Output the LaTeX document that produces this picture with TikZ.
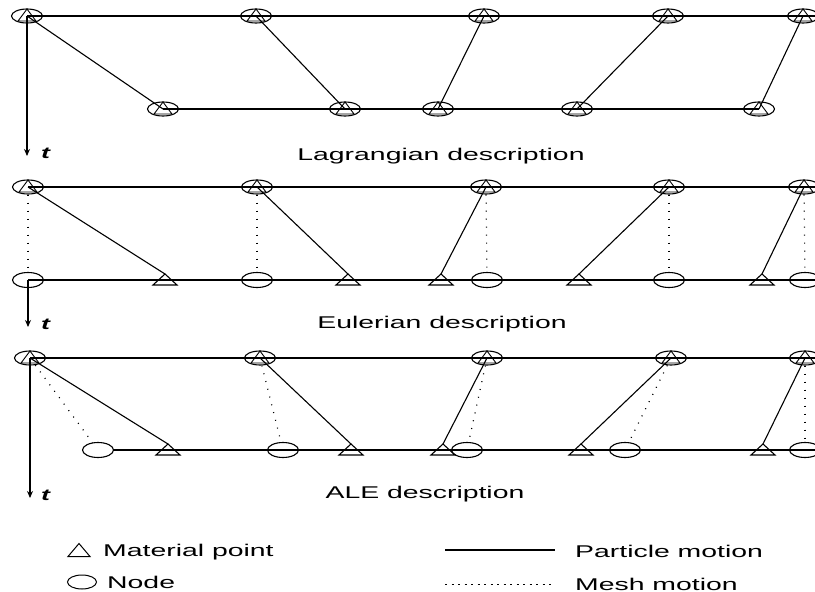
\documentclass[tikz,border=0pt]{standalone}
\usepackage{fontspec}
\setmainfont{Liberation Sans}[FakeStretch=1.67]
\usetikzlibrary{shapes.geometric,arrows.meta}
\tikzset{
  axisline/.style={line width=1.8pt},
  particle/.style={line width=1.1pt},
  mesh/.style={line width=1.2pt, dash pattern=on 1pt off 7pt},
  arr/.style={-{Stealth[length=7pt,width=6pt]}},
  lbl/.style={font=\fontsize{17}{20}\selectfont, inner sep=0pt},
  tlbl/.style={font=\fontsize{16}{18}\selectfont\bfseries\itshape, inner sep=0pt},
  nodecirc/.style={ellipse, draw, line width=1.1pt, minimum width=31pt, minimum height=15pt, inner sep=0pt},
  tri/.pic={
    \draw[line width=1.1pt] (-12,5) -- (12,5) -- (0,-6) -- cycle;
    \coordinate (-a) at (0,-6);
  },
  mp/.pic={
    \node[nodecirc, minimum height=14pt] (-c) at (0,0) {};
    \draw[line width=0.9pt] (-9,5) -- (9,5) -- (0,-7) -- cycle;
  },
  legtri/.pic={
    \draw[line width=1pt] (-11,6.5) -- (11,6.5) -- (0,-6.5) -- cycle;
  }
}
\begin{document}
\begin{tikzpicture}[x=1pt,y=-1pt]
\useasboundingbox (0,0) rectangle (815,592);
\clip (0,0) rectangle (815,592);

% ---------------- Lagrangian ----------------
\foreach \i/\x in {1/27,2/256,3/484,4/668,5/803} \pic (LT\i) at (\x,16) {mp};
\foreach \i/\x in {1/163,2/345,3/438,4/577,5/759} \pic (LB\i) at (\x,109) {mp};
\coordinate (Lr) at (815,16);
\coordinate (Lt) at (27,156);
\draw[axisline] (LT1-c.center) -- (Lr);
\draw[axisline] (LB1-c.center) -- (LB5-c.center);
\foreach \i in {1,...,5} \draw[particle] (LT\i-c.center) -- (LB\i-c.center);
\draw[axisline,arr] (LT1-c.center) -- (Lt);
\node[tlbl, anchor=base west] (Ltl) at (41,158) {t};
\node[lbl, anchor=base] (Llab) at (441,160) {Lagrangian description};

% ---------------- Eulerian ----------------
\foreach \i/\x in {1/28,2/257,3/486,4/669,5/804} \pic (ET\i) at (\x,187) {mp};
\foreach \i/\x in {1/28,2/257,3/487,4/669,5/805} \node[nodecirc] (EC\i) at (\x,280) {};
\foreach \i/\x in {1/165,2/348,3/441,4/579,5/762} \pic (ER\i) at (\x,280) {tri};
\coordinate (Er1) at (815,187);
\coordinate (Er2) at (815,280);
\coordinate (Et) at (28,327);
\draw[axisline] (ET1-c.center) -- (Er1);
\draw[axisline] (EC1.center) -- (Er2);
\foreach \i in {1,...,5} {
  \draw[particle] (ET\i-c.center) -- (ER\i-a);
  \draw[mesh] (ET\i-c) -- (EC\i);
}
\draw[axisline,arr] (EC1.center) -- (Et);
\node[tlbl, anchor=base west] (Etl) at (41,329) {t};
\node[lbl, anchor=base] (Elab) at (442,328) {Eulerian description};

% ---------------- ALE ----------------
\foreach \i/\x in {1/30,2/260,3/487,4/671,5/805} \pic (AT\i) at (\x,358) {mp};
\foreach \i/\x in {1/98,2/283,3/467,4/625,5/805} \node[nodecirc] (AC\i) at (\x,450) {};
\foreach \i/\x in {1/168,2/351,3/443,4/581,5/763} \pic (AR\i) at (\x,450) {tri};
\coordinate (Ar1) at (815,358);
\coordinate (Ar2) at (815,450);
\coordinate (At) at (30,498);
\draw[axisline] (AT1-c.center) -- (Ar1);
\draw[axisline] (AC1.east) -- (Ar2);
\foreach \i in {1,...,5} {
  \draw[particle] (AT\i-c.center) -- (AR\i-a);
  \draw[mesh] (AT\i-c) -- (AC\i);
}
\draw[axisline,arr] (AT1-c.center) -- (At);
\node[tlbl, anchor=base west] (Atl) at (41,500) {t};
\node[lbl, anchor=base] (Alab) at (425,498) {ALE description};

% ---------------- Legend ----------------
\pic (legT) at (79,550) {legtri};
\node[nodecirc, line width=1pt, minimum width=29pt, minimum height=14pt] (legC) at (82,582) {};
\node[lbl, anchor=base west] (legTt) at (103,556) {Material point};
\node[lbl, anchor=base west] (legCt) at (107,588) {Node};
\coordinate (lp1) at (445,550);
\coordinate (lp2) at (555,550);
\coordinate (lm1) at (445,584);
\coordinate (lm2) at (555,584);
\draw[particle] (lp1) -- (lp2);
\draw[line width=1pt, dash pattern=on 2pt off 4.5pt] (lm1) -- (lm2);
\node[lbl, anchor=base west] (lpt) at (575,557) {Particle motion};
\node[lbl, anchor=base west] (lmt) at (575,590) {Mesh motion};
\end{tikzpicture}
\end{document}
